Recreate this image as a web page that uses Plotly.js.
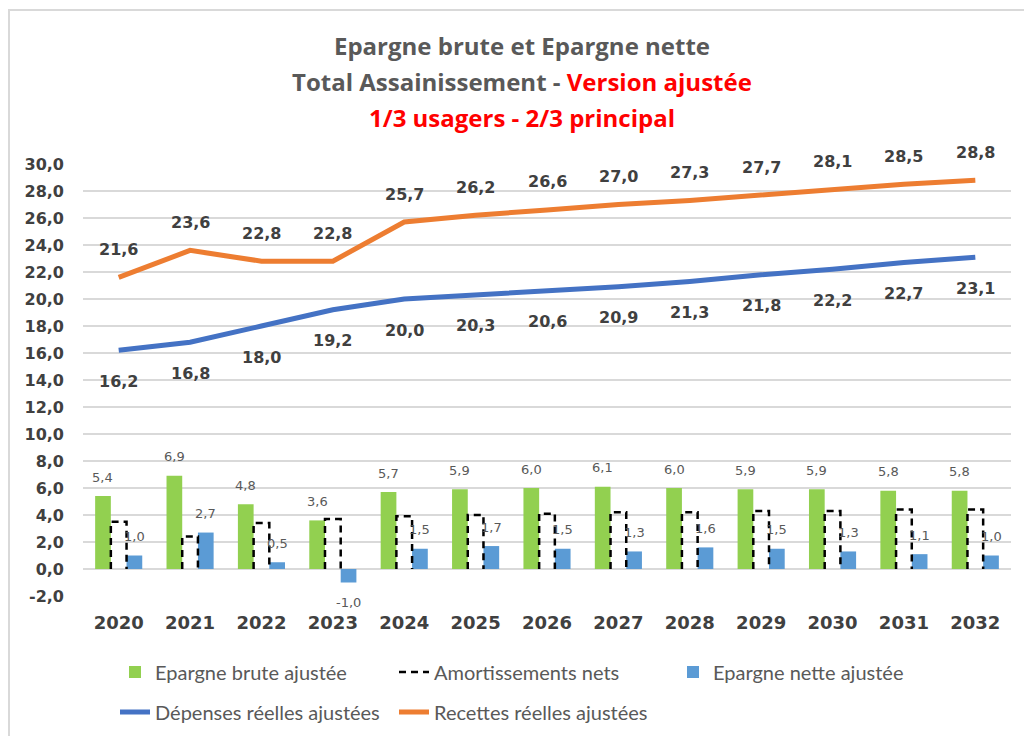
<!DOCTYPE html>
<html>
<head>
<meta charset="utf-8">
<script src="https://cdn.plot.ly/plotly-3.0.1.min.js"></script>
<style>
  html, body { margin: 0; padding: 0; background: #ffffff; }
  #frame { position: absolute; left: 8px; top: 9px; width: 1100px; height: 800px;
           border-top: 2px solid #d9d9d9; border-left: 2px solid #d9d9d9; box-sizing: border-box; }
  #chart { position: absolute; left: 0; top: 0; width: 1024px; height: 736px; }
</style>
</head>
<body>
<div id="frame"></div>
<div id="chart"></div>
<script>
// ---- Data ----
const years = ['2020','2021','2022','2023','2024','2025','2026','2027','2028','2029','2030','2031','2032'];
const epargneBrute = [5.4, 6.9, 4.8, 3.6, 5.7, 5.9, 6.0, 6.1, 6.0, 5.9, 5.9, 5.8, 5.8];
const amortissements = [3.5, 2.4, 3.4, 3.7, 3.9, 4.0, 4.1, 4.2, 4.2, 4.3, 4.3, 4.4, 4.4];
const epargneNette = [1.0, 2.7, 0.5, -1.0, 1.5, 1.7, 1.5, 1.3, 1.6, 1.5, 1.3, 1.1, 1.0];
const depenses = [16.2, 16.8, 18.0, 19.2, 20.0, 20.3, 20.6, 20.9, 21.3, 21.8, 22.2, 22.7, 23.1];
const recettes = [21.6, 23.6, 22.8, 22.8, 25.7, 26.2, 26.6, 27.0, 27.3, 27.7, 28.1, 28.5, 28.8];
const yTickVals = [-2, 0, 2, 4, 6, 8, 10, 12, 14, 16, 18, 20, 22, 24, 26, 28, 30];

const fmt = v => v.toFixed(1).replace('.', ',');
const idx = years.map((_, i) => i);

const BARGAP = 0.34;
const W = (1 - BARGAP) / 3;   // width of one bar in category units

const TEXT = '#404040';
const NUMFONT = 'DejaVu Sans, sans-serif';
const TXTFONT = 'Lato, sans-serif';
const TITLEFONT = 'Open Sans, sans-serif';

// dashed outline path for Amortissements (middle bar slot)
const ax = [], ay = [];
amortissements.forEach((v, i) => {
  ax.push(i - W / 2, i - W / 2, i + W / 2, i + W / 2, null);
  ay.push(0, v, v, 0, null);
});

const traces = [
  { type: 'bar', x: idx, y: epargneBrute, name: 'Epargne brute ajustée',
    marker: { color: '#92D050' }, legend: 'legend', legendrank: 1, hoverinfo: 'y' },
  { type: 'bar', x: idx, y: amortissements, name: 'amort-slot',
    marker: { color: 'rgba(0,0,0,0)' }, showlegend: false, hoverinfo: 'skip' },
  { type: 'bar', x: idx, y: epargneNette, name: 'Epargne nette ajustée',
    marker: { color: '#5B9BD5' }, legend: 'legend', legendrank: 3, hoverinfo: 'y' },
  { type: 'scatter', mode: 'lines', x: ax, y: ay, name: 'Amortissements nets',
    line: { color: '#000000', width: 2.5, dash: '7px,5px' }, legend: 'legend',
    legendrank: 2, connectgaps: false, hoverinfo: 'skip' },
  { type: 'scatter', mode: 'lines', x: idx, y: depenses, name: 'Dépenses réelles ajustées',
    line: { color: '#4472C4', width: 5 }, legend: 'legend2', legendrank: 1 },
  { type: 'scatter', mode: 'lines', x: idx, y: recettes, name: 'Recettes réelles ajustées',
    line: { color: '#ED7D31', width: 5 }, legend: 'legend2', legendrank: 2 }
];

// ---- annotations (data labels) ----
const annotations = [];
recettes.forEach((v, i) => annotations.push({
  x: i, y: v, xref: 'x', yref: 'y', text: fmt(v), showarrow: false, yshift: 28,
  font: { family: NUMFONT, size: 16, color: TEXT, weight: 'bold' }
}));
depenses.forEach((v, i) => annotations.push({
  x: i, y: v, xref: 'x', yref: 'y', text: fmt(v), showarrow: false, yshift: -31,
  font: { family: NUMFONT, size: 16, color: TEXT, weight: 'bold' }
}));
epargneBrute.forEach((v, i) => annotations.push({
  x: i - W, y: v, xref: 'x', yref: 'y', text: fmt(v), showarrow: false, yshift: 19,
  font: { family: NUMFONT, size: 13, color: '#595959' }
}));
epargneNette.forEach((v, i) => annotations.push({
  x: i + W, y: v, xref: 'x', yref: 'y', text: fmt(v), showarrow: false, yshift: v >= 0 ? 19 : -20,
  font: { family: NUMFONT, size: 13, color: '#595959' }
}));

// title lines 2 and 3
const PLOT_TOP = 164, PLOT_BOTTOM = 596, PH = PLOT_BOTTOM - PLOT_TOP;
const py = p => (PLOT_BOTTOM - p) / PH;
annotations.push({
  xref: 'paper', yref: 'paper', x: (522 - 83) / 928, y: py(82), yanchor: 'middle', showarrow: false,
  text: 'Total Assainissement - <span style="color:#FF0000">Version ajustée</span>',
  font: { family: TITLEFONT, size: 24, color: '#595959', weight: 'bold' }
});
annotations.push({
  xref: 'paper', yref: 'paper', x: (522 - 83) / 928, y: py(117), yanchor: 'middle', showarrow: false,
  text: '1/3 usagers - 2/3 principal',
  font: { family: TITLEFONT, size: 24, color: '#FF0000', weight: 'bold' }
});

const legendBase = {
  orientation: 'h', xref: 'container', yref: 'container',
  x: 115 / 1024, xanchor: 'left', yanchor: 'middle',
  entrywidth: 234, entrywidthmode: 'pixels', itemwidth: 30, traceorder: 'normal',
  font: { family: TXTFONT, size: 20, color: '#595959' }, bgcolor: 'rgba(0,0,0,0)'
};

const layout = {
  width: 1024, height: 736,
  paper_bgcolor: 'rgba(0,0,0,0)', plot_bgcolor: 'rgba(0,0,0,0)',
  margin: { l: 83, r: 13, t: PLOT_TOP, b: 736 - PLOT_BOTTOM, pad: 0 },
  separators: ',.',
  title: {
    text: 'Epargne brute et Epargne nette',
    xref: 'container', yref: 'container', x: 522 / 1024, y: 1 - 47 / 736,
    xanchor: 'center', yanchor: 'middle',
    font: { family: TITLEFONT, size: 24, color: '#595959', weight: 'bold' }
  },
  barmode: 'group', bargap: BARGAP, bargroupgap: 0,
  xaxis: {
    range: [-0.5, 12.5], tickvals: idx, ticktext: years, showgrid: false,
    zeroline: false, showline: false, ticks: '', ticklabelstandoff: 14,
    tickfont: { family: NUMFONT, size: 18, color: TEXT, weight: 'bold' }, fixedrange: true,
    automargin: false
  },
  yaxis: {
    range: [-2, 30], tickvals: yTickVals, ticktext: yTickVals.map(fmt),
    showgrid: true, gridcolor: '#d9d9d9', gridwidth: 1.5,
    zeroline: false, showline: false, ticks: '', ticklabelstandoff: 18,
    tickfont: { family: NUMFONT, size: 16, color: TEXT, weight: 'bold' }, fixedrange: true,
    automargin: false
  },
  legend: Object.assign({}, legendBase, { y: 1 - 672 / 736 }),
  legend2: Object.assign({}, legendBase, { y: 1 - 712 / 736 }),
  annotations: annotations,
  showlegend: true
};

Plotly.newPlot('chart', traces, layout, { displayModeBar: false, staticPlot: true });
</script>
</body>
</html>
